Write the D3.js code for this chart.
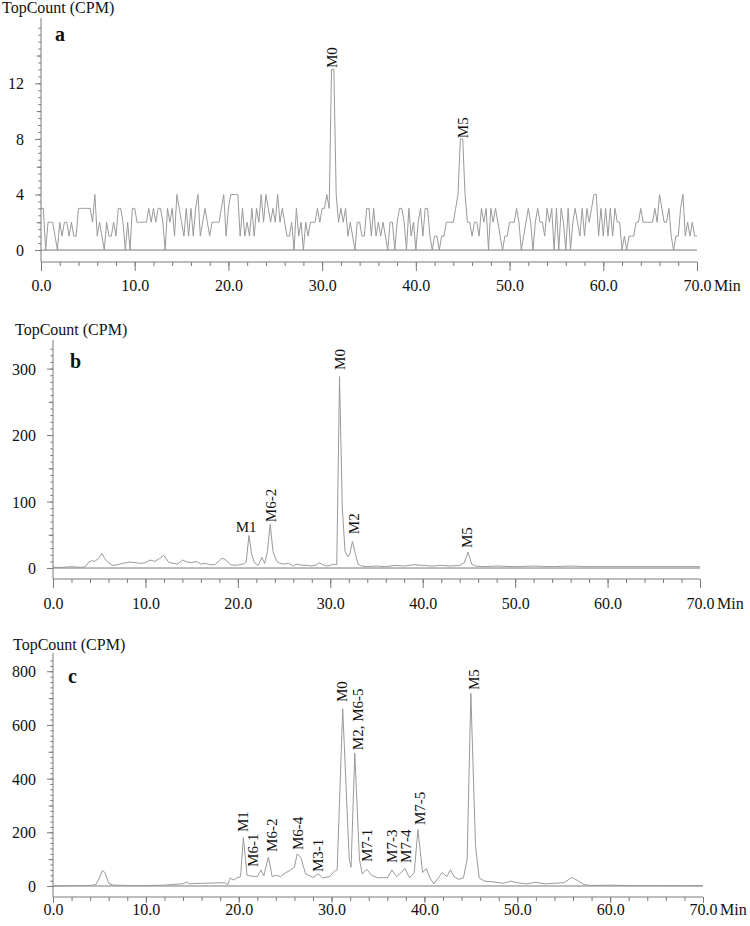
<!DOCTYPE html>
<html><head><meta charset="utf-8">
<script src="https://cdn.jsdelivr.net/npm/d3@7"></script>
<style>
body{margin:0;background:#fff}
svg text{font-family:"Liberation Serif","Times New Roman",serif !important;fill:#111}
</style>
</head><body>
<svg id="chart" width="750" height="926" font-family="Liberation Serif, serif"></svg>
<script>
// ---------- DATA ----------
// Panel a: TopCount trace sampled every 0.25 min (0 – 70 min)
const aStep = 0.25;
const aValues = [
3,3,0,2,2,2,1,0,2,1, 2,2,1,2,1,1,3,3,3,3, 3,3,2,4,1,2,1,0,2,1, 1,2,1,3,3,2,0,2,0,3,
3,2,2,2,2,2,3,2,3,2, 3,3,2,0,3,2,3,1,4,3, 2,1,3,1,3,1,3,4,1,2, 3,2,1,2,2,2,2,3,4,1,
3,4,4,4,4,1,3,1,2,1, 3,1,3,2,4,2,4,3,2,3, 2,4,2,3,2,1,1,2,0,3, 1,2,0,2,1,2,2,2,3,2,
3,3,4,3,13,13,4,2,3,2, 3,1,2,1,0,2,2,1,1,3, 3,1,3,1,2,1,2,1,0,2, 2,0,2,3,3,2,0,3,1,2,
0,2,3,1,3,3,1,0,1,1, 0,1,1,2,2,2,2,3,4,8, 8,4,2,2,1,2,2,1,3,2, 3,0,3,2,3,2,1,0,1,1,
2,2,2,3,2,0,1,2,3,2, 0,2,3,2,2,1,3,2,3,0, 3,0,3,2,0,3,0,2,3,2, 1,3,1,3,2,3,4,4,1,3,
1,3,1,3,1,3,2,2,0,1, 0,1,1,1,2,2,3,2,2,2, 2,2,3,2,4,3,2,2,3,1, 0,1,1,3,4,1,2,1,2,1,
1
];
const aLabels = ["M0","M5"];
const aLabelTimes = [31.05, 45.0];
const aLabelValues = [13.1, 8.05];

// Panel b
const bTimes = [0,1,2,3,3.5,3.8,4.2,4.5,4.9,5.3,5.6,6,6.5,7,7.5,8.3,9,9.5,10,10.5,
11,11.5,12,12.5,13,13.5,14,14.5,15,15.5,16,16.5,17,17.5,18,18.3,18.7,19.2,19.7,20.2,
20.6,20.9,21.2,21.5,21.8,22.2,22.6,22.9,23.2,23.5,23.8,24.2,24.6,25,25.5,26,26.3,26.7,27,27.5,
28,28.5,28.8,29.2,29.6,30,30.4,30.7,31.0,31.3,31.6,31.9,32.1,32.4,32.7,33,33.4,34,35,36,
37,38,39,40,41,42,43,44,44.5,44.9,45.3,45.7,46.5,48,50,52,54,56,58,60,
62,64,66,68,70];
const bValues = [1,1,2,1,2,8,11,10,14,22,14,8,4,5,7,9,8,7,8,12,
10,14,19,9,7,6,12,9,8,10,6,7,5,5,11,15,12,5,4,5,
6,9,49,20,8,4,16,7,25,66,25,10,7,6,7,3,6,5,4,4,
3,5,8,5,3,4,6,5,288,90,25,17,20,40,22,6,3,2,3,2,
4,3,5,4,3,4,3,4,8,24,6,3,2,3,2,3,2,3,2,2,
2,2,2,2,2];
const bLabels = ["M1","M6-2","M0","M2","M5"];
const bLabelTimes = [20.9, 23.6, 31.0, 32.5, 44.8];
const bLabelValues = [54, 69, 298, 51, 30];
const bLabelRotated = [false, true, true, true, true];

// Panel c
const cTimes = [0,2,4,4.6,5.0,5.3,5.6,6,6.5,8,10,12,13,14,14.4,14.7,15,16,17,18,
18.5,18.8,19.1,19.4,19.8,20.2,20.5,20.9,21.5,22.0,22.4,22.7,23.2,23.6,24,24.5,25,25.5,26,26.3,
26.7,27.2,28,28.6,29,29.8,30.3,30.6,31.2,31.9,32.1,32.5,33,33.3,33.8,34.3,35,35.5,36,36.5,
37,37.5,37.9,38.4,38.9,39.3,39.8,40.2,40.6,41,41.5,41.9,42.4,42.8,43.2,43.7,44.2,44.6,45.0,45.5,
45.9,46.5,47.5,48.5,49.3,50,51,52,53,54,55,55.9,56.5,57.2,58,60,62,64,66,68,
70];
const cValues = [0,1,2,5,30,57,50,10,3,2,2,3,6,8,15,8,9,10,11,12,
12,5,30,22,30,35,180,40,36,35,60,38,108,35,40,35,48,58,70,120,
105,45,32,45,30,35,55,60,660,100,70,495,100,45,62,40,30,32,30,60,
35,50,65,30,50,210,50,65,30,8,30,50,35,60,35,25,30,100,718,150,
30,18,15,10,18,12,8,14,8,10,12,32,20,5,2,3,2,2,1,1,
1];
const cLabels = ["M1","M6-1","M6-2","M6-4","M3-1","M0","M2, M6-5","M7-1","M7-3","M7-4","M7-5","M5"];
const cLabelTimes = [20.4, 21.5, 23.55, 26.4, 28.5, 31.1, 32.85, 33.8, 36.5, 38.0, 39.5, 45.3];
const cLabelValues = [201, 71, 127, 134, 52, 685, 506, 89, 86, 86, 227, 730];

const xTicks = [0,10,20,30,40,50,60,70];
const aYTicks = [0,4,8,12];
const bYTicks = [0,100,200,300];
const cYTicks = [0,200,400,600,800];

// ---------- DRAW ----------
const FONT = '"Liberation Serif","Times New Roman",serif';
const svg = d3.select("#chart");
const lineColor = "#9a9a9a";
const axisColor = "#7a7a7a";

function panel(cfg){
  const g = svg.append("g");
  const x = d3.scaleLinear().domain([0,70]).range(cfg.xRange);
  const y = d3.scaleLinear().domain(cfg.yDomain).range(cfg.yRange);
  const x0 = cfg.xRange[0], x1 = cfg.xRange[1];
  const axisY = cfg.yRange[0];

  g.append("line").attr("x1",x0).attr("x2",x1).attr("y1",y(0)).attr("y2",y(0))
    .attr("stroke",axisColor).attr("stroke-width",1);

  const line = d3.line().x(d=>x(d[0])).y(d=>y(d[1]));
  g.append("path").datum(cfg.points).attr("d",line).attr("fill","none")
    .attr("stroke",lineColor).attr("stroke-width",1);

  const yAx = g.append("g").attr("transform",`translate(${x0},0)`);
  const mkY = (vals,size,labels)=>{
    const a = d3.axisLeft(y).tickValues(vals).tickSize(size).tickSizeOuter(0);
    if(!labels) a.tickFormat("");
    const s = yAx.append("g").call(a).attr("font-family",FONT).attr("font-size",16);
    s.select(".domain").remove();
    s.selectAll("line").attr("stroke",axisColor);
    s.selectAll("text").attr("x",-17).attr("dy","0.34em").attr("fill","#111");
  };
  mkY(cfg.yMinor,2.7,false);
  mkY(cfg.yMed,4.3,false);
  mkY(cfg.yTicks,6,true);
  yAx.append("line").attr("x1",0).attr("x2",0).attr("y1",cfg.yRange[1]).attr("y2",axisY)
    .attr("stroke",axisColor);

  const xAx = g.append("g").attr("transform",`translate(0,${axisY})`);
  const mkX = (vals,size,labels)=>{
    const a = d3.axisBottom(x).tickValues(vals).tickSize(size).tickSizeOuter(0);
    a.tickFormat(labels ? d3.format(".1f") : "");
    const s = xAx.append("g").call(a).attr("font-family",FONT).attr("font-size",16);
    s.select(".domain").remove();
    s.selectAll("line").attr("stroke",axisColor);
    s.selectAll("text").attr("y",cfg.xLabelBase).attr("dy",0).attr("fill","#111");
  };
  mkX(d3.range(0,71,2),4,false);
  mkX(xTicks,cfg.xMajor,true);
  xAx.append("line").attr("x1",x0).attr("x2",x1).attr("y1",0).attr("y2",0).attr("stroke",axisColor);
  xAx.append("text").attr("x",x(70)+17).attr("y",cfg.xLabelBase)
    .attr("font-size",16).text("Min");

  g.append("text").attr("x",cfg.titleX).attr("y",cfg.titleY).attr("font-size",16).text("TopCount (CPM)");
  g.append("text").attr("x",cfg.letterX).attr("y",cfg.letterY).attr("font-size",20)
    .attr("font-weight","bold").text(cfg.letter);

  cfg.labels.forEach((name,i)=>{
    const px = x(cfg.labelTimes[i]), py = y(cfg.labelValues[i]);
    const rot = cfg.labelRot ? cfg.labelRot[i] : true;
    if(rot){
      g.append("text").attr("transform",`translate(${px},${py}) rotate(-90)`)
        .attr("dy","0.35em").attr("font-size",15).text(name);
    } else {
      g.append("text").attr("x",px).attr("y",py).attr("text-anchor","middle")
        .attr("font-size",15).text(name);
    }
  });
}

panel({
  points: aValues.map((v,i)=>[i*aStep, v]),
  xRange:[41,697], yDomain:[-0.86,16.7], yRange:[262,18], xLabelBase:29, xMajor:9,
  yTicks:aYTicks, yMed:d3.range(2,16.1,4), yMinor:d3.range(0,16.01,0.5),
  titleX:2, titleY:13, letter:"a", letterX:55, letterY:41,
  labels:aLabels, labelTimes:aLabelTimes, labelValues:aLabelValues
});
panel({
  points: bTimes.map((t,i)=>[t,bValues[i]]),
  xRange:[53,700], yDomain:[-16.5,343], yRange:[579,340], xLabelBase:30, xMajor:9,
  yTicks:bYTicks, yMed:[50,150,250], yMinor:d3.range(0,331,10),
  titleX:15, titleY:335, letter:"b", letterX:70, letterY:368,
  labels:bLabels, labelTimes:bLabelTimes, labelValues:bLabelValues, labelRot:bLabelRotated
});
panel({
  points: cTimes.map((t,i)=>[t,cValues[i]]),
  xRange:[53,703], yDomain:[-41,868], yRange:[897,653], xLabelBase:18, xMajor:6,
  yTicks:cYTicks, yMed:[100,300,500,700], yMinor:d3.range(0,841,20),
  titleX:13, titleY:650, letter:"c", letterX:68, letterY:683,
  labels:cLabels, labelTimes:cLabelTimes, labelValues:cLabelValues
});
</script>
</body></html>
